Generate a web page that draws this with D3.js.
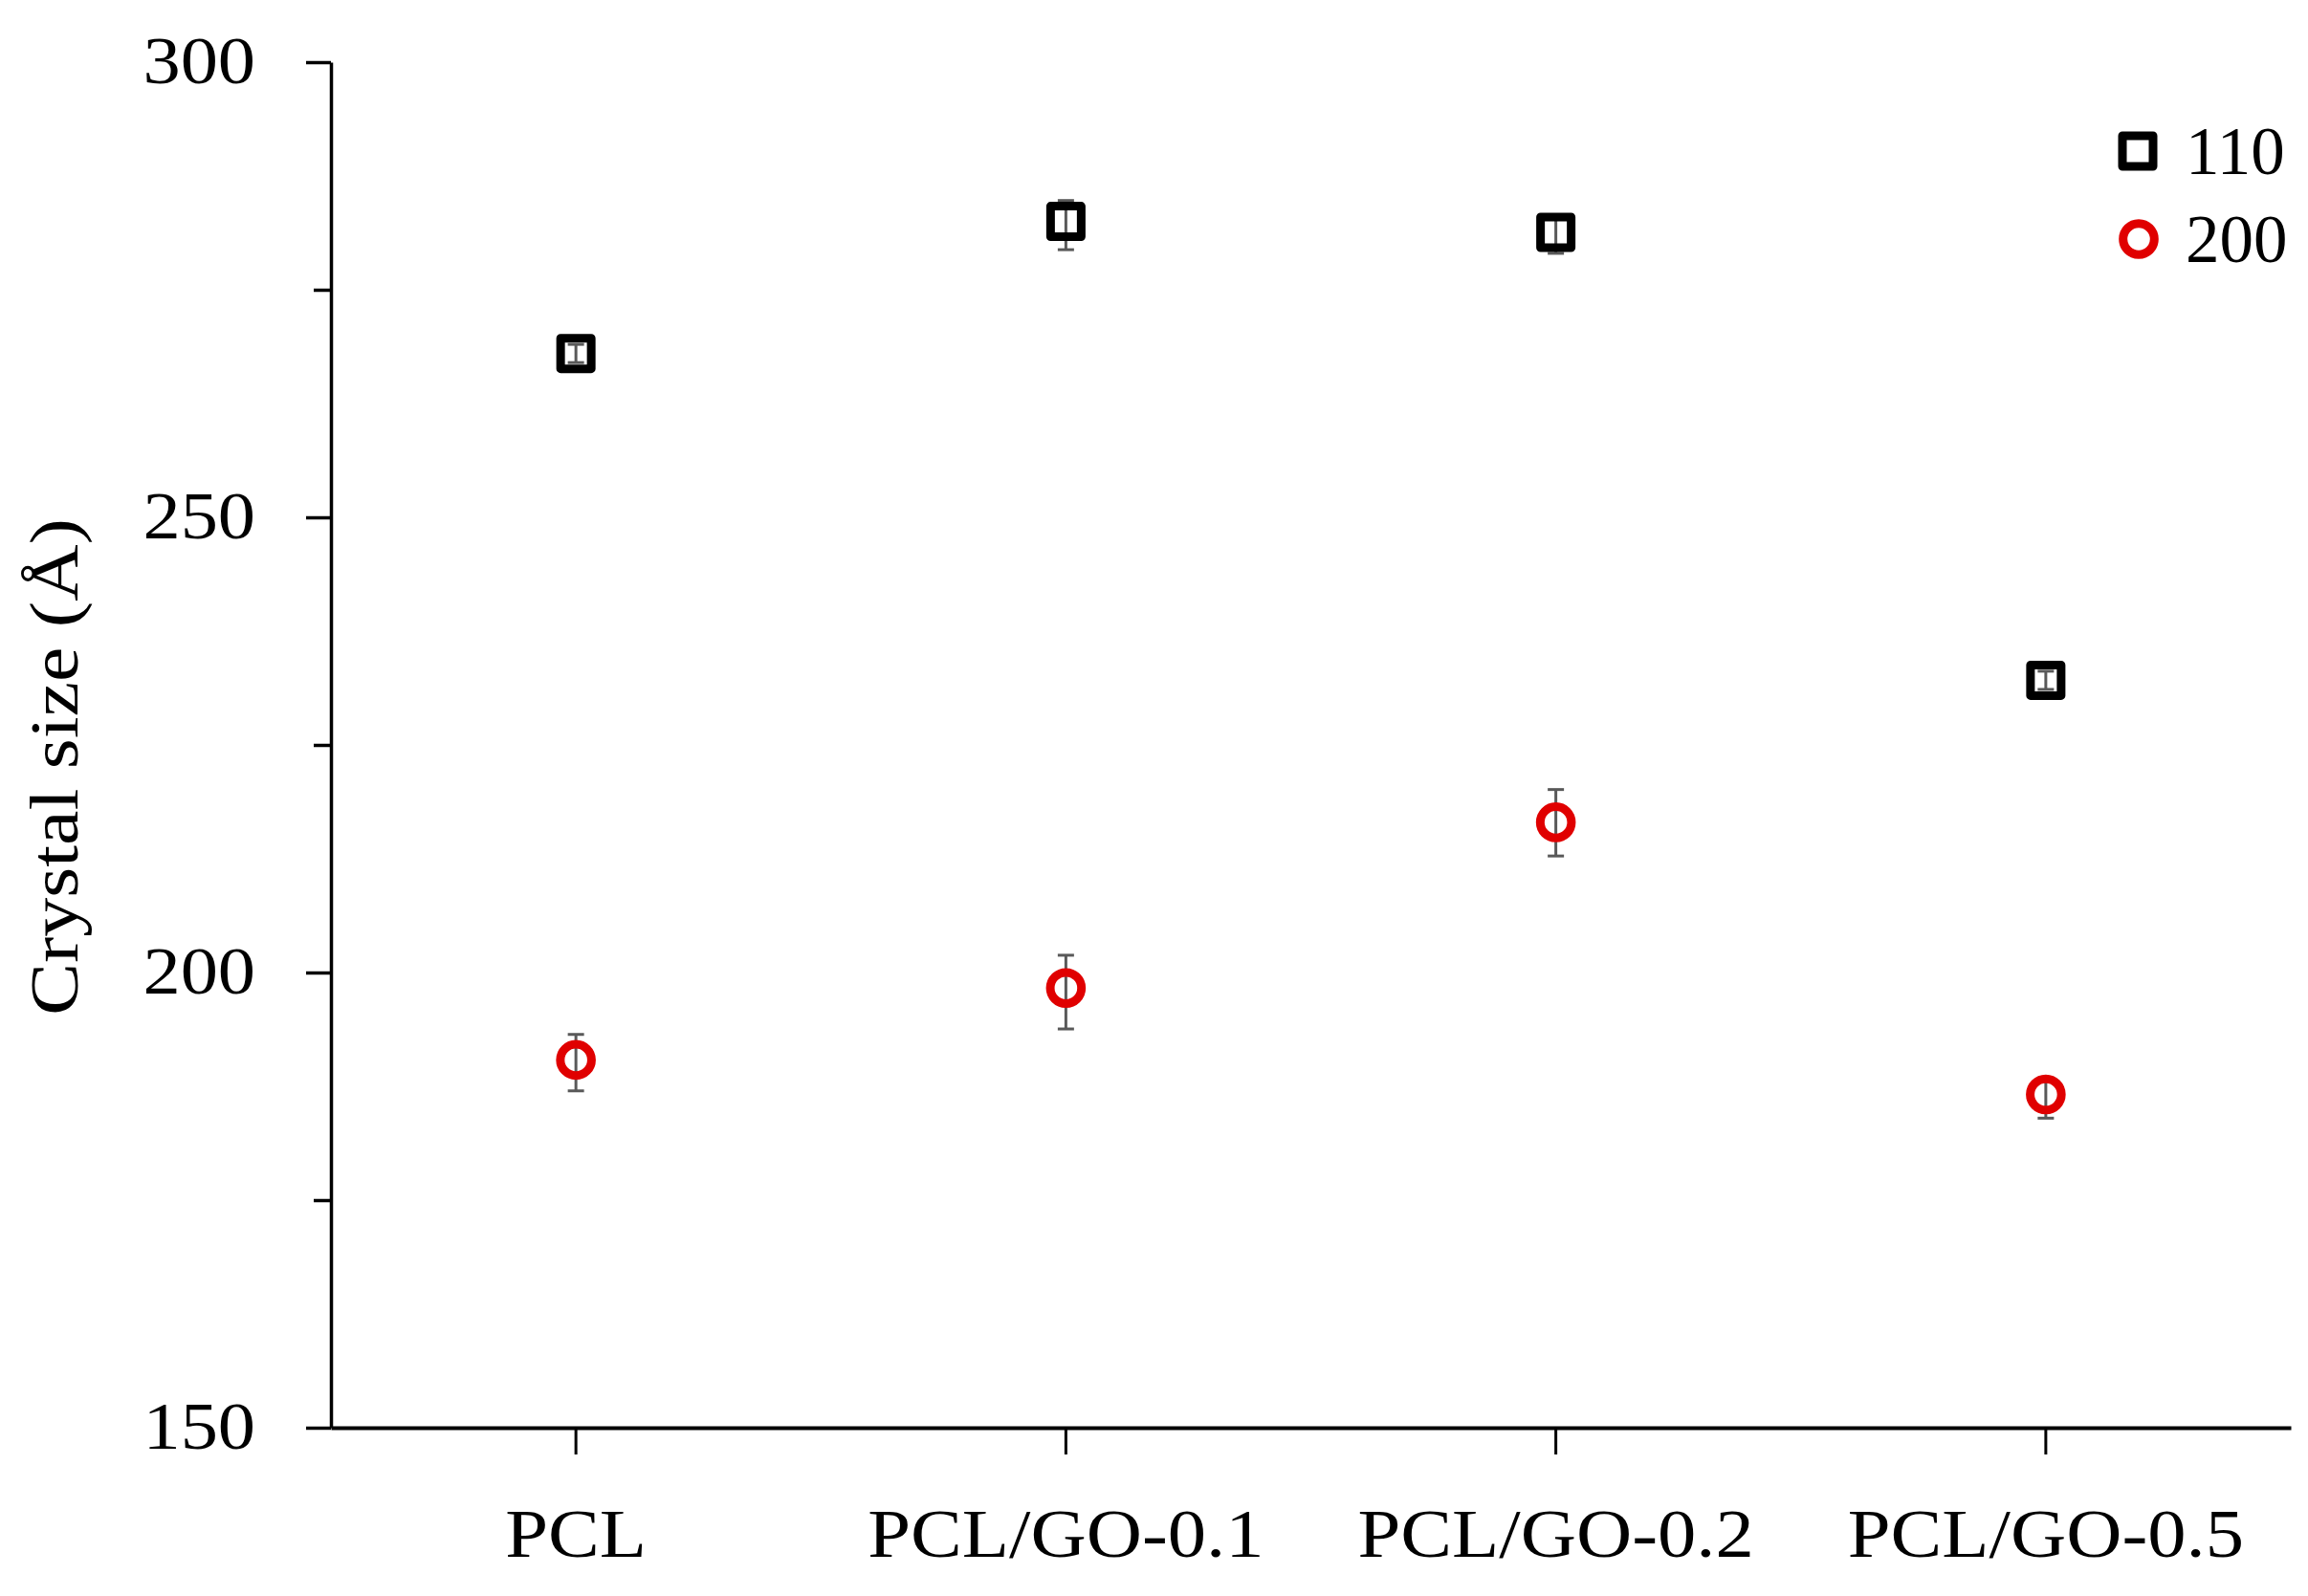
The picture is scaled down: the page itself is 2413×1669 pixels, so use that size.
<!DOCTYPE html>
<html>
<head>
<meta charset="utf-8">
<script src="https://cdn.jsdelivr.net/npm/d3@7"></script>
<style>
  body { margin: 0; background: #fff; }
  text { font-family: "Palatino Linotype", "Book Antiqua", "Liberation Serif", serif; fill: #000; }
</style>
</head>
<body>
<svg id="chart"></svg>
<script>
// data
const categories = ["PCL", "PCL/GO-0.1", "PCL/GO-0.2", "PCL/GO-0.5"]
const size110 = [268.0, 282.5, 281.3, 232.1]
const err110Plus = [1.0, 2.3, 1.5, 1.0]
const err110Minus = [1.0, 3.1, 2.3, 1.0]
const size200 = [190.4, 198.3, 216.5, 186.6]
const err200Plus = [2.8, 3.6, 3.6, 1.5]
const err200Minus = [3.4, 4.5, 3.7, 2.6]
const seriesNames = ["110", "200"]
const yMajor = [150, 200, 250, 300]
const yMinor = [175, 225, 275]

const W = 2413
const H = 1669
const plotLeft = 346, plotRight = 2395, plotTop = 65, plotBottom = 1493

const svg = d3.select("#chart").attr("width", W).attr("height", H)

const x = d3.scaleBand().domain(categories).range([plotLeft, plotRight]).padding(0)
const y = d3.scaleLinear().domain([150, 300]).range([plotBottom, plotTop])
const cx = (c) => x(c) + x.bandwidth() / 2

const red = "#e00000"
const errColor = "#595959"
// Palatino is wider than the serif we have, stretch text a little
const stretch = 1.12

// y axis, minor ticks first
svg.append("g")
  .attr("transform", `translate(${plotLeft},0)`)
  .call(d3.axisLeft(y).tickValues(yMinor).tickSize(18).tickFormat(""))
  .call((g) => g.select(".domain").remove())
  .selectAll("line").attr("stroke-width", 3.5)

const yAxis = svg.append("g")
  .attr("transform", `translate(${plotLeft},0)`)
  .call(d3.axisLeft(y).tickValues(yMajor).tickSize(26).tickSizeOuter(0))
yAxis.select(".domain").attr("stroke-width", 3.5)
yAxis.selectAll("line").attr("stroke-width", 3.5)
yAxis.selectAll("text")
  .attr("font-size", 70)
  .attr("x", -79 / stretch)
  .attr("dy", "0.31em")
  .attr("transform", `scale(${stretch},1)`)
  .style("font-family", '"Palatino Linotype", "Book Antiqua", "Liberation Serif", serif')

// x axis
const xAxis = svg.append("g")
  .attr("transform", `translate(0,${plotBottom})`)
  .call(d3.axisBottom(x).tickSize(28).tickSizeOuter(0))
xAxis.select(".domain").attr("stroke-width", 4)
xAxis.selectAll("line").attr("stroke-width", 3)
xAxis.selectAll("text")
  .attr("font-size", 72)
  .attr("y", 135)
  .attr("dy", 0)
  .attr("transform", `scale(${stretch},1)`)
  .style("font-family", '"Palatino Linotype", "Book Antiqua", "Liberation Serif", serif')

// axis title
svg.append("text")
  .attr("transform", "translate(81,802) rotate(-90) scale(1.14,1)")
  .attr("text-anchor", "middle")
  .attr("font-size", 72)
  .text("Crystal size (Å)")

const rows = categories.map((c, i) => ({
  c,
  v110: size110[i], p110: err110Plus[i], m110: err110Minus[i],
  v200: size200[i], p200: err200Plus[i], m200: err200Minus[i],
}))

// error bars
function errorBars(key, plus, minus) {
  const g = svg.append("g").attr("stroke", errColor).attr("stroke-width", 3)
  const cap = 8.5
  rows.forEach((d) => {
    const x0 = cx(d.c)
    const yt = y(d[key] + d[plus])
    const yb = y(d[key] - d[minus])
    g.append("line").attr("x1", x0).attr("x2", x0).attr("y1", yt).attr("y2", yb)
    g.append("line").attr("x1", x0 - cap).attr("x2", x0 + cap).attr("y1", yt).attr("y2", yt)
    g.append("line").attr("x1", x0 - cap).attr("x2", x0 + cap).attr("y1", yb).attr("y2", yb)
  })
}
errorBars("v110", "p110", "m110")
errorBars("v200", "p200", "m200")

// markers
const sq = 32
svg.append("g")
  .selectAll("rect")
  .data(rows)
  .join("rect")
  .attr("x", (d) => cx(d.c) - sq / 2)
  .attr("y", (d) => y(d.v110) - sq / 2)
  .attr("width", sq)
  .attr("height", sq)
  .attr("fill", "none")
  .attr("stroke", "#000")
  .attr("stroke-width", 9)
  .attr("stroke-linejoin", "round")

svg.append("g")
  .selectAll("circle")
  .data(rows)
  .join("circle")
  .attr("cx", (d) => cx(d.c))
  .attr("cy", (d) => y(d.v200))
  .attr("r", 16.3)
  .attr("fill", "none")
  .attr("stroke", red)
  .attr("stroke-width", 9)

// legend
const legend = svg.append("g")
seriesNames.forEach((name, i) => {
  const ly = 158 + i * 92
  if (i === 0) {
    legend.append("rect")
      .attr("x", 2235 - sq / 2).attr("y", ly - sq / 2)
      .attr("width", sq).attr("height", sq)
      .attr("fill", "none").attr("stroke", "#000")
      .attr("stroke-width", 9).attr("stroke-linejoin", "round")
  } else {
    legend.append("circle")
      .attr("cx", 2236).attr("cy", ly).attr("r", 16.3)
      .attr("fill", "none").attr("stroke", red).attr("stroke-width", 9)
  }
  legend.append("text")
    .attr("x", 2285)
    .attr("y", ly + 24)
    .attr("font-size", 71)
    .text(name)
})
</script>
</body>
</html>
